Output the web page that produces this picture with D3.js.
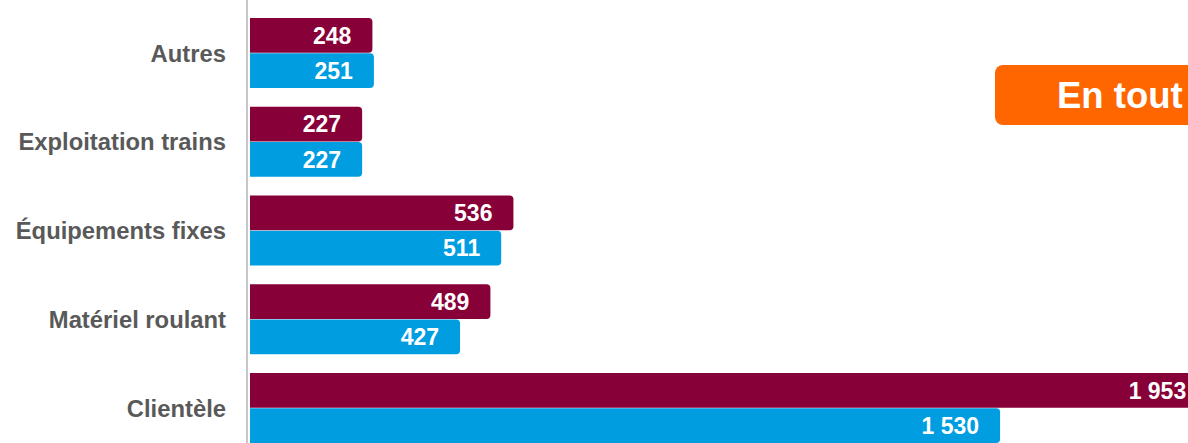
<!DOCTYPE html>
<html>
<head>
<meta charset="utf-8">
<style>
  body{margin:0;background:#fff;overflow:hidden;}
  svg{display:block;font-family:"Liberation Sans",Arial,sans-serif;}
</style>
<script src="https://cdn.jsdelivr.net/npm/d3@7"></script>
</head>
<body>
<svg id="chart"></svg>
<script>
var categories = ["Autres","Exploitation trains","Équipements fixes","Matériel roulant","Clientèle"];
var seriesKeys = ["avant","apres"];
var valuesAvant = [248,227,536,489,1953];
var valuesApres = [251,227,511,427,1530];
var badgeText = "En tout";

var width = 1188, height = 443;
var svg = d3.select("#chart").attr("width",width).attr("height",height);

var colors = {avant:"#880038", apres:"#009ee0"};

var x = d3.scaleLinear().domain([0,2000]).range([250,250+2000*0.4896]);
var y = d3.scaleBand().domain(categories)
    .range([8.6,452.35]).paddingInner(0.211).paddingOuter(0.1055);
var y2 = d3.scaleBand().domain(seriesKeys).range([0,y.bandwidth()]).paddingInner(0.015);

var fmt = function(v){ return d3.format(",")(v).replace(/,/g," "); };

var rows = [];
categories.forEach(function(c,i){
  rows.push({cat:c,key:"avant",v:valuesAvant[i]});
  rows.push({cat:c,key:"apres",v:valuesApres[i]});
});

function barPath(x0,y0,x1,h,r){
  return "M"+x0+","+y0+"H"+(x1-r)+"Q"+x1+","+y0+" "+x1+","+(y0+r)+
         "V"+(y0+h-r)+"Q"+x1+","+(y0+h)+" "+(x1-r)+","+(y0+h)+"H"+x0+"Z";
}

svg.selectAll("path.bar").data(rows).enter().append("path")
  .attr("class","bar")
  .attr("fill",function(d){return colors[d.key];})
  .attr("d",function(d){
    return barPath(x(0),y(d.cat)+y2(d.key),x(d.v)+1,y2.bandwidth(),4);
  });

svg.selectAll("text.val").data(rows).enter().append("text")
  .attr("class","val")
  .attr("x",function(d){return x(d.v)-20;})
  .attr("y",function(d){return y(d.cat)+y2(d.key)+y2.bandwidth()/2;})
  .attr("dy","0.36em")
  .attr("text-anchor","end")
  .attr("fill","#fff")
  .attr("font-weight","bold")
  .attr("font-size","23px")
  .text(function(d){return fmt(d.v);});

// axis line
svg.append("line")
  .attr("x1",247).attr("x2",247).attr("y1",0).attr("y2",height)
  .attr("stroke","#c6c6c6").attr("stroke-width",2);

svg.selectAll("text.cat").data(categories).enter().append("text")
  .attr("class","cat")
  .attr("x",226)
  .attr("y",function(d){return y(d)+y.bandwidth()/2;})
  .attr("dy","0.36em")
  .attr("text-anchor","end")
  .attr("fill","#595959")
  .attr("font-weight","bold")
  .attr("font-size","23.8px")
  .text(function(d){return d;});

// badge
var badge = svg.append("g");
badge.append("rect")
  .attr("x",995).attr("y",65).attr("width",230).attr("height",60)
  .attr("rx",8).attr("fill","#ff6600");
badge.append("text")
  .attr("x",1057).attr("y",108)
  .attr("fill","#fff").attr("font-weight","bold").attr("font-size","36.5px")
  .text(badgeText);
</script>
</body>
</html>
